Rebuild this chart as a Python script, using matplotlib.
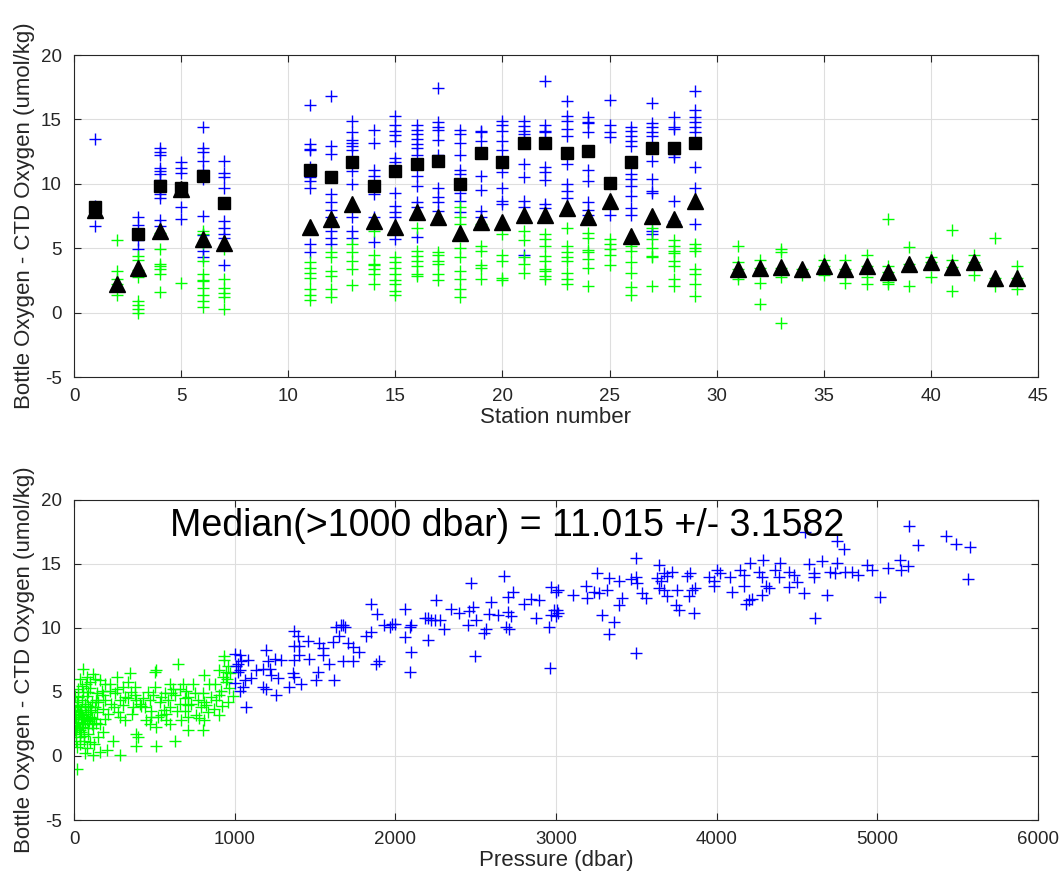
import numpy as np
import matplotlib.pyplot as plt

plt.rcParams['font.family'] = ['Liberation Sans', 'DejaVu Sans']
plt.rcParams['axes.unicode_minus'] = False

# top panel: bottle - ctd oxygen by station
stations = [1, 2, 3, 4, 5, 6, 7, 11, 12, 13, 14, 15, 16, 17, 18, 19, 20, 21, 22, 23,
            24, 25, 26, 27, 28, 29, 31, 32, 33, 34, 35, 36, 37, 38, 39, 40, 41, 42, 43, 44]

deep_vals = [
    [13.5, 8.3, 8.1, 7.9, 6.7],
    [],
    [7.4, 6.8, 5.6, 4.9],
    [12.8, 12.5, 12.2, 11.2, 11.0, 10.75, 10.3, 9.6, 9.2, 8.9, 7.2, 6.7],
    [11.7, 11.2, 10.8, 9.6, 8.2, 7.3],
    [14.4, 12.8, 12.5, 11.8, 11.1, 10.4, 7.5, 6.0, 4.8, 4.3],
    [11.8, 10.8, 10.5, 9.7, 7.1, 6.6, 6.1, 5.8, 3.7],
    [16.1, 13.1, 12.7, 12.6, 11.3, 10.75, 10.5, 10.2, 9.7, 5.3, 4.7],
    [16.8, 12.9, 12.3, 10.5, 9.2, 8.55, 8.0, 7.4, 6.35, 5.8, 5.3],
    [14.9, 14.0, 13.4, 13.2, 12.95, 12.6, 11.7, 11.0, 10.0, 7.4, 6.35, 5.8],
    [14.2, 13.2, 11.1, 10.6, 9.8, 9.2, 7.4, 5.45],
    [15.3, 14.6, 14.1, 13.8, 13.3, 12.0, 11.7, 11.0, 9.3, 8.3, 7.8, 7.4, 5.7],
    [14.6, 14.2, 13.9, 13.5, 13.1, 12.8, 12.2, 11.5, 10.6, 9.85, 8.55, 8.2, 5.9],
    [17.4, 14.8, 14.4, 14.2, 13.4, 12.2, 11.75, 9.7, 9.0, 8.55, 7.9],
    [14.2, 13.9, 13.2, 12.2, 11.1, 10.75, 9.3, 8.7, 7.8],
    [14.1, 14.0, 13.3, 12.4, 10.6, 9.5, 7.9, 7.4],
    [14.9, 14.6, 14.1, 13.3, 12.6, 11.7, 10.9, 9.7, 8.7, 8.4],
    [14.9, 14.5, 14.1, 13.9, 13.2, 11.5, 10.5, 8.7, 8.2, 4.5],
    [18.0, 14.6, 14.1, 14.0, 11.3, 10.9, 10.3, 8.4, 8.1],
    [16.45, 15.3, 14.85, 14.25, 13.7, 12.4, 11.5, 10.0, 9.45, 8.9],
    [15.15, 14.8, 14.7, 14.0, 12.55, 11.1, 10.2, 8.55, 8.0, 7.6],
    [16.5, 14.6, 14.0, 13.65, 10.1, 7.6],
    [14.4, 14.1, 13.7, 13.3, 12.9, 11.7, 10.75, 10.4, 9.85, 9.05, 8.15, 7.6],
    [16.25, 14.7, 14.4, 14.0, 13.7, 12.8, 11.8, 10.4, 9.45, 9.3, 6.35, 6.1],
    [15.2, 14.4, 14.25, 12.8, 12.3, 12.05, 8.7, 7.1],
    [17.2, 15.7, 15.15, 14.8, 14.4, 14.0, 13.2, 11.3, 9.7, 6.9],
    [], [], [], [], [], [], [], [], [], [], [], [], [], [],
]

shallow_vals = [
    [],
    [5.6, 3.2, 2.6, 2.2, 1.4],
    [4.4, 4.1, 3.3, 2.8, 0.9, 0.6, 0.3, 0.0],
    [6.2, 4.9, 3.75, 3.6, 3.4, 3.0, 1.6],
    [2.3],
    [6.3, 6.1, 5.4, 4.0, 3.0, 2.5, 2.45, 1.9, 1.4, 0.9, 0.45],
    [4.9, 2.6, 1.9, 1.5, 1.2, 0.3],
    [3.9, 3.5, 3.1, 2.7, 1.8, 1.4, 1.0],
    [4.7, 4.3, 3.2, 2.85, 1.8, 1.2],
    [5.3, 4.7, 4.0, 3.4, 2.15],
    [6.35, 4.5, 3.8, 3.7, 3.4, 3.0, 2.2],
    [4.3, 3.9, 3.5, 3.0, 2.5, 2.2, 1.7, 1.4],
    [6.6, 4.8, 4.4, 4.0, 3.6, 3.0, 2.85],
    [4.7, 4.5, 4.0, 3.8, 3.0, 2.5],
    [8.2, 7.4, 6.9, 5.05, 4.3, 3.2, 2.6, 1.8, 1.2],
    [6.9, 5.2, 4.8, 3.7, 3.5, 2.6],
    [6.1, 4.5, 4.0, 2.7, 2.5],
    [6.35, 5.6, 4.3, 3.8, 3.1],
    [6.1, 5.7, 5.2, 4.4, 4.0, 3.4, 3.2, 2.85, 2.6],
    [6.6, 5.2, 4.7, 4.3, 4.0, 3.1, 2.6, 2.25],
    [6.2, 5.8, 4.85, 4.7, 4.15, 3.5, 2.1],
    [5.7, 5.3, 4.9, 4.5, 3.7],
    [5.6, 5.2, 4.8, 3.9, 3.1, 1.95, 1.4],
    [6.6, 5.7, 5.05, 4.4, 4.3, 2.1],
    [5.6, 5.2, 4.8, 4.6, 4.0, 3.6, 2.6, 2.1],
    [5.3, 5.05, 4.8, 3.4, 3.0, 2.25, 1.3],
    [5.2, 3.9, 3.4, 2.9, 2.6],
    [4.05, 3.5, 2.3, 0.7],
    [4.95, 4.7, 3.5, 2.75, -0.8],
    [3.35, 2.9],
    [4.05, 3.6, 2.9],
    [4.05, 3.4, 2.9, 2.3],
    [4.5, 3.6, 2.75, 2.2],
    [7.3, 3.65, 3.15, 2.4, 2.2],
    [5.1, 3.75, 2.1],
    [4.3, 3.95, 2.75],
    [6.45, 4.05, 3.55, 1.7],
    [4.5, 3.95, 2.9],
    [5.8, 2.7, 2.1],
    [3.6, 2.7, 1.85],
]

# station medians (deep bottles -> squares, all bottles -> triangles)
med_deep = [8.2, np.nan, 6.1, 9.8, 9.7, 10.6, 8.5, 11.1, 10.5, 11.7, 9.8, 11.0, 11.5, 11.75,
            10.0, 12.4, 11.7, 13.2, 13.2, 12.4, 12.55, 10.1, 11.7, 12.8, 12.8, 13.2,
            np.nan, np.nan, np.nan, np.nan, np.nan, np.nan, np.nan, np.nan, np.nan,
            np.nan, np.nan, np.nan, np.nan, np.nan]
med_all = [8.0, 2.25, 3.5, 6.35, 9.6, 5.7, 5.4, 6.65, 7.3, 8.4, 7.1, 6.65, 7.8, 7.4,
           6.2, 7.0, 7.0, 7.6, 7.6, 8.15, 7.4, 8.7, 5.95, 7.5, 7.25, 8.7,
           3.4, 3.5, 3.55, 3.35, 3.6, 3.4, 3.6, 3.15, 3.75, 3.95, 3.55, 3.95, 2.7, 2.7]

# bottom panel: (pressure dbar, bottle - ctd oxygen)
shallow_pts = [
    (17, -1.0), (58, 6.8), (120, 6.4), (99, 5.8), (79, 6.2), (47, 5.5), (6, 4.7), (17, 4.2),
    (27, 3.8), (37, 3.4), (58, 3.05), (79, 2.8), (47, 2.5), (17, 2.3), (89, 3.4), (99, 3.8),
    (68, 4.1), (110, 2.5), (120, 2.15), (89, 1.75), (37, 1.5), (17, 0.7), (68, 0.2), (120, 0.05),
    (161, 0.3), (203, 0.45), (285, 0.05), (244, 1.2), (182, 1.9), (161, 2.5), (192, 2.9),
    (182, 3.7), (192, 4.35), (172, 5.1), (192, 5.65), (161, 5.9), (223, 5.65), (265, 6.2),
    (254, 4.9), (285, 4.35), (275, 3.4), (285, 3.05), (316, 2.8), (347, 6.45), (337, 5.8),
    (357, 5.0), (378, 4.75), (388, 4.35), (368, 3.8), (409, 4.1), (388, 1.75), (398, 1.5),
    (388, 0.75), (430, 4.5), (451, 2.8), (471, 2.5), (482, 3.55), (502, 6.55), (513, 6.7),
    (502, 5.4), (533, 4.2), (523, 3.05), (513, 2.25), (513, 0.8), (564, 4.9), (595, 5.65),
    (606, 4.9), (585, 4.35), (595, 3.8), (575, 3.3), (595, 2.5), (626, 1.2), (647, 7.2),
    (678, 5.65), (699, 5.1), (688, 4.5), (709, 3.95), (657, 4.1), (668, 2.8), (709, 3.05),
    (709, 2.0), (750, 4.9), (771, 4.35), (812, 6.3), (802, 4.9), (823, 3.95), (833, 3.4),
    (812, 2.8), (802, 2.0), (843, 5.65), (885, 4.35), (905, 3.2), (936, 7.85), (936, 7.5),
    (947, 6.55), (926, 6.2), (947, 5.8), (916, 5.1), (905, 4.75), (5, 3.05), (5, 3.55),
    (27, 3.05), (10, 2.65), (58, 2.25), (37, 2.0), (99, 3.05), (5, 2.0), (68, 3.8), (130, 3.8),
    (141, 3.4), (213, 3.3), (223, 5.1), (265, 5.25), (306, 5.4), (337, 4.5), (378, 5.4),
    (492, 4.75), (471, 4.35), (440, 3.8), (616, 5.25), (709, 4.6), (730, 4.1), (792, 3.8),
    (812, 4.2), (761, 3.2), (626, 4.75), (575, 2.8), (544, 3.2), (482, 3.05), (306, 3.95),
    (233, 4.1), (182, 4.75), (141, 4.9), (151, 4.2), (960, 7.0), (970, 6.5), (955, 6.0),
    (965, 5.3), (990, 4.7), (30, 3.3), (45, 2.9), (70, 2.6), (20, 3.9), (50, 4.4), (80, 4.7),
    (100, 5.3), (130, 6.0), (60, 1.2), (40, 0.9), (150, 1.5), (110, 3.0), (25, 5.2), (75, 5.6),
    (90, 2.2), (35, 6.0), (140, 2.6), (12, 1.7),
    (8, 3.3), (15, 2.9), (22, 2.6), (33, 2.2), (42, 3.6), (52, 3.2), (63, 2.9), (72, 3.3),
    (85, 3.9), (95, 2.7), (105, 3.6), (115, 4.2), (125, 2.9), (135, 4.4), (3, 4.0), (28, 4.6),
    (55, 5.0), (85, 5.0), (10, 1.2), (45, 1.9), (65, 1.6), (100, 1.1), (125, 0.9), (80, 0.6),
    (250, 3.8), (320, 4.6), (360, 3.3), (420, 3.9), (460, 5.0), (540, 4.6), (560, 3.6),
    (640, 3.5), (660, 5.2), (690, 3.5), (740, 5.6), (780, 3.0), (850, 4.6), (870, 3.7),
    (880, 5.6), (900, 6.7), (920, 3.9), (960, 4.2),
]

deep_pts = [
    (1005, 8.0), (1010, 7.0), (1020, 6.6), (1000, 5.7),
    (1847, 11.9), (1888, 11.1), (1672, 10.2), (1688, 10.05), (1651, 9.4), (1930, 10.2),
    (1982, 10.3), (1847, 9.7), (1816, 9.4), (1372, 9.8), (1393, 9.4), (1455, 9.0), (1372, 8.6),
    (1403, 8.6), (1527, 8.8), (1610, 8.9), (1548, 8.4), (1703, 8.8), (1734, 8.5), (1775, 8.1),
    (1548, 7.9), (1465, 7.6), (1589, 7.2), (1672, 7.4), (1734, 7.4), (1878, 7.2), (1899, 7.4),
    (1196, 8.3), (1207, 7.4), (1248, 7.6), (1289, 7.5), (1372, 7.5), (1403, 7.9), (1031, 7.9),
    (1041, 7.4), (1083, 7.5), (1217, 6.8), (1134, 6.7), (1176, 6.8), (1228, 6.3), (1269, 6.1),
    (1103, 6.1), (1062, 5.9), (1362, 6.5), (1372, 6.2), (1517, 6.6), (1506, 5.9), (1620, 5.9),
    (1413, 5.6), (1341, 5.4), (1176, 5.4), (1196, 5.2), (1258, 4.8), (1031, 5.05), (1052, 5.4),
    (1072, 3.8), (1031, 6.7), (1021, 7.2), (1628, 10.1), (1659, 10.2),
    (2678, 14.1), (2471, 13.5), (2730, 12.8), (2699, 12.4), (2254, 12.2), (2058, 11.45),
    (2347, 11.45), (2399, 11.2), (2481, 11.65), (2461, 11.3), (2595, 12.05), (2585, 11.1),
    (2637, 11.0), (2699, 11.25), (2720, 10.9), (2843, 12.3), (2895, 12.2), (2802, 11.9),
    (2967, 13.2), (2998, 12.8), (2988, 11.4), (2998, 10.9), (2967, 11.0), (2874, 10.75),
    (2957, 10.1), (2203, 10.75), (2224, 10.6), (2244, 10.65), (2275, 10.6), (2183, 10.8),
    (2306, 9.95), (2450, 10.2), (2502, 10.6), (2564, 9.95), (2554, 9.6), (2688, 10.05),
    (2709, 9.95), (1996, 10.35), (1965, 10.1), (2089, 10.1), (2099, 10.2), (2058, 9.3),
    (2203, 9.1), (2099, 8.1), (2089, 6.6), (2496, 7.8), (2963, 6.9),
    (3496, 15.5), (3641, 14.95), (3258, 14.3), (3331, 13.9), (3393, 13.65), (3465, 13.8),
    (3496, 14.0), (3506, 13.55), (3672, 14.3), (3693, 14.1), (3724, 14.35), (3631, 13.9),
    (3651, 13.65), (3837, 14.3), (3817, 14.1), (3951, 14.0), (4003, 14.55), (4023, 14.3),
    (3982, 13.65), (4085, 14.0), (3186, 13.25), (3237, 12.85), (3268, 12.75), (3320, 13.0),
    (3103, 12.6), (3196, 12.35), (3010, 13.0), (3413, 12.35), (3393, 11.8), (3537, 12.75),
    (3558, 12.35), (3641, 13.1), (3672, 13.0), (3693, 12.5), (3755, 12.95), (3745, 11.8),
    (3765, 11.4), (3827, 12.5), (3848, 12.95), (3868, 13.1), (3982, 13.25), (4095, 12.85),
    (3858, 11.2), (3289, 11.05), (3361, 10.5), (3330, 9.5), (3496, 8.05), (3005, 11.4),
    (3015, 11.2),
    (5198, 18.0), (5254, 16.5), (5426, 17.2), (5492, 16.6), (5575, 16.3), (5564, 13.8),
    (4551, 17.5), (4748, 16.8), (4793, 16.2), (4210, 15.05), (4289, 15.3), (4393, 15.05),
    (4575, 15.0), (4657, 15.2), (4748, 15.05), (4934, 14.9), (5140, 15.3), (5192, 14.85),
    (5068, 14.7), (4147, 14.55), (4169, 14.15), (4262, 14.4), (4283, 14.0), (4365, 14.55),
    (4386, 14.0), (4448, 14.4), (4479, 14.15), (4603, 14.3), (4706, 14.4), (4737, 14.3),
    (4799, 14.4), (4841, 14.4), (4882, 14.15), (4965, 14.55), (5150, 14.55), (4603, 14.0),
    (4448, 13.2), (4500, 13.6), (4324, 13.1), (4304, 13.25), (4169, 13.25), (4283, 12.55),
    (4221, 12.3), (4200, 12.2), (4183, 11.9), (4541, 12.7), (4686, 12.55), (5017, 12.45),
    (4614, 10.75),
]

median_text = 'Median(>1000 dbar) = 11.015 +/- 3.1582'

axcol = '#262626'
blue = '#0000ff'
green = '#00ff00'

def style(ax):
    for s in ax.spines.values():
        s.set_color(axcol)
        s.set_linewidth(0.8)
    ax.tick_params(direction='in', top=True, right=True, length=5, width=0.8,
                   colors=axcol, labelsize=13.5)
    ax.tick_params(axis='y', pad=9)
    ax.tick_params(axis='x', pad=8)
    ax.grid(True, color='#dedede', linewidth=0.8)
    ax.set_axisbelow(True)

fig = plt.figure(figsize=(10.6, 8.8), dpi=100)
ax1 = fig.add_axes([74 / 1060, 1 - 377 / 880, 964 / 1060, 322 / 880])
ax2 = fig.add_axes([74 / 1060, 1 - 820 / 880, 964 / 1060, 320 / 880])

mk = dict(linestyle='none', marker='+', markersize=9, markeredgewidth=1.0)
for s, vals in zip(stations, deep_vals):
    if vals:
        ax1.plot([s] * len(vals), vals, color=blue, **mk)
for s, vals in zip(stations, shallow_vals):
    if vals:
        ax1.plot([s] * len(vals), vals, color=green, **mk)
ax1.plot(stations, med_deep, 's', color='k', markersize=8, linestyle='none')
ax1.plot(stations, med_all, '^', color='k', markersize=11, linestyle='none')

ax1.set_xlim(0, 45)
ax1.set_ylim(-5, 20)
ax1.set_xticks(np.arange(0, 46, 5))
ax1.set_yticks(np.arange(-5, 21, 5))
ax1.set_xlabel('Station number', fontsize=16, color=axcol, labelpad=1)
ax1.set_ylabel('Bottle Oxygen - CTD Oxygen (umol/kg)', fontsize=16, color=axcol, labelpad=4)
style(ax1)

sp = np.array(shallow_pts)
dp = np.array(deep_pts)
ax2.plot(sp[:, 0], sp[:, 1], color=green, **mk)
ax2.plot(dp[:, 0], dp[:, 1], color=blue, **mk)
ax2.text(600, 18, median_text, fontsize=27, ha='left', va='center', color='k')

ax2.set_xlim(0, 6000)
ax2.set_ylim(-5, 20)
ax2.set_xticks(np.arange(0, 6001, 1000))
ax2.set_yticks(np.arange(-5, 21, 5))
ax2.set_xlabel('Pressure (dbar)', fontsize=16, color=axcol, labelpad=1)
ax2.set_ylabel('Bottle Oxygen - CTD Oxygen (umol/kg)', fontsize=16, color=axcol, labelpad=4)
style(ax2)

fig.savefig('out.png', dpi=100)
